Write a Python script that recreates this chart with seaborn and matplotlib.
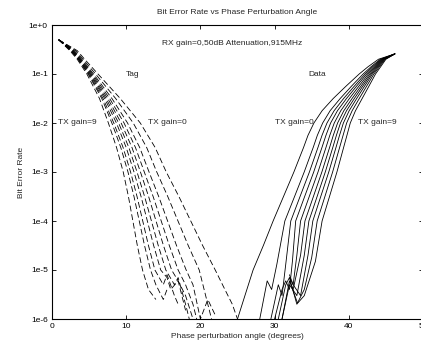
"""
Bit error rate vs phase perturbation angle, tag and data curves per TX gain
"""
import matplotlib
matplotlib.use("Agg")
import pandas as pd
import matplotlib.pyplot as plt
import seaborn as sns

# TX gain settings, 0..9
GAINS = list(range(10))

# Tag curves: angle (deg) where each curve crosses these BER levels
TAG_LEVELS = [0.5, 0.3, 0.2, 0.1, 3.16e-2, 1e-2, 3.16e-3, 1e-3, 3.16e-4, 1e-4,
              3.16e-5, 1e-5]
TAG_ANGLES = {
    9: [0.9, 2.4, 3.4, 4.7, 6.4, 7.6, 8.7, 9.6, 10.3, 10.9, 11.5, 12.2],
    8: [0.9, 2.51, 3.51, 4.87, 6.71, 8.07, 9.27, 10.24, 11.05, 11.76, 12.47, 13.28],
    7: [0.9, 2.57, 3.57, 4.96, 6.88, 8.33, 9.58, 10.59, 11.46, 12.23, 13.0, 13.87],
    6: [0.9, 2.65, 3.65, 5.08, 7.1, 8.68, 10.0, 11.05, 12.0, 12.85, 13.7, 14.65],
    5: [0.9, 2.72, 3.72, 5.18, 7.3, 8.98, 10.36, 11.46, 12.48, 13.4, 14.32, 15.34],
    4: [0.9, 2.8, 3.8, 5.3, 7.52, 9.32, 10.78, 11.92, 13.02, 14.02, 15.02, 16.12],
    3: [0.9, 2.89, 3.89, 5.44, 7.77, 9.71, 11.25, 12.44, 13.63, 14.72, 15.81, 17.0],
    2: [0.9, 3.0, 4.0, 5.6, 8.08, 10.18, 11.82, 13.08, 14.38, 15.58, 16.78, 18.08],
    1: [0.9, 3.18, 4.18, 5.87, 8.58, 10.95, 12.76, 14.12, 15.6, 16.98, 18.36, 19.84],
    0: [0.9, 3.4, 4.4, 6.2, 9.2, 11.9, 13.9, 15.4, 17.1, 18.7, 20.3, 22.0],
}
# noisy low-BER ends of the tag curves (angle, ber)
TAG_TAILS = {
    9: [(13.0, 4e-6), (14.0, 2.5e-6)],
    8: [(14.0, 5e-6), (15.0, 2.5e-6), (15.5, 4e-6)],
    7: [(15.0, 5e-6), (15.5, 8e-6), (16.5, 3e-6), (17.0, 2e-6)],
    6: [(15.5, 7e-6), (16.0, 4e-6), (17.0, 6e-6), (18.0, 1.5e-6)],
    5: [(16.5, 5e-6), (17.0, 7e-6), (18.0, 2e-6), (18.5, 1e-6)],
    4: [(17.0, 6e-6), (18.0, 3e-6), (19.0, 1e-6)],
    3: [(18.0, 5e-6), (19.0, 2e-6), (19.5, 1e-6)],
    2: [(19.0, 5e-6), (20.0, 1e-6), (21.0, 2.5e-6), (22.0, 1.2e-6)],
    1: [(20.5, 4e-6), (21.5, 1e-6)],
    0: [(23.3, 4e-6), (24.3, 2e-6), (25.0, 1e-6)],
}

# Data curves: noisy low-BER start (angle, ber), then crossings of BER levels
DATA_TAILS = {
    0: [(25.0, 1e-6), (26.0, 3e-6), (27.1, 1e-5), (28.5, 3.2e-5)],
    1: [(28.0, 1e-6), (29.0, 6e-6), (29.6, 4e-6), (30.3, 1.3e-5)],
    2: [(29.5, 1e-6), (30.5, 5e-6), (31.0, 3e-6), (31.5, 1.3e-5)],
    3: [(30.0, 1e-6), (31.0, 4e-6), (31.5, 6e-6), (32.0, 4e-6), (32.4, 1.5e-5)],
    4: [(30.5, 1e-6), (31.5, 5e-6), (32.0, 7e-6), (32.5, 5e-6), (33.0, 2e-5)],
    5: [(31.0, 1e-6), (32.0, 6e-6), (32.5, 4e-6), (33.5, 2e-5)],
    6: [(31.0, 1e-6), (32.0, 5e-6), (33.0, 3e-6), (34.0, 2e-5)],
    7: [(32.0, 8e-6), (32.5, 5e-6), (33.5, 3e-6), (34.5, 2e-5)],
    8: [(32.0, 7e-6), (33.0, 2e-6), (34.0, 4e-6), (35.0, 1.8e-5)],
    9: [(32.3, 4.5e-6), (33.1, 2.1e-6), (34.0, 3e-6), (35.5, 1.5e-5)],
}
DATA_LEVELS = [1e-4, 3.16e-4, 1e-3, 3.16e-3, 5.6e-3, 1e-2, 1.78e-2, 3.16e-2,
               5.6e-2, 0.1, 0.141, 0.2, 0.257]
DATA_ANGLES = {
    0: [29.8, 31.2, 32.6, 33.9, 34.5, 35.3, 36.4, 37.9, 39.6, 41.4, 42.6, 44.0, 46.2],
    1: [31.38, 32.69, 33.99, 35.2, 35.76, 36.48, 37.48, 38.84, 40.34, 41.93, 43.01, 44.24, 46.2],
    2: [32.18, 33.43, 34.69, 35.84, 36.39, 37.06, 38.02, 39.3, 40.72, 42.19, 43.21, 44.36, 46.2],
    3: [32.84, 34.05, 35.27, 36.38, 36.92, 37.55, 38.47, 39.69, 41.03, 42.41, 43.38, 44.46, 46.2],
    4: [33.5, 34.67, 35.85, 36.92, 37.44, 38.04, 38.92, 40.08, 41.34, 42.63, 43.55, 44.56, 46.2],
    5: [34.09, 35.23, 36.37, 37.41, 37.91, 38.49, 39.33, 40.44, 41.62, 42.83, 43.7, 44.65, 46.2],
    6: [34.62, 35.73, 36.83, 37.84, 38.33, 38.88, 39.69, 40.75, 41.86, 43.01, 43.84, 44.73, 46.2],
    7: [35.15, 36.22, 37.3, 38.27, 38.75, 39.27, 40.05, 41.06, 42.11, 43.18, 43.98, 44.81, 46.2],
    8: [35.74, 36.78, 37.82, 38.76, 39.23, 39.71, 40.45, 41.41, 42.39, 43.38, 44.13, 44.9, 46.2],
    9: [36.4, 37.4, 38.4, 39.3, 39.75, 40.2, 40.9, 41.8, 42.7, 43.6, 44.3, 45.0, 46.2],
}

Y_TICKS = [1, 1e-1, 1e-2, 1e-3, 1e-4, 1e-5, 1e-6]
Y_TICK_LABELS = ["1e+0", "1e-1", "1e-2", "1e-3", "1e-4", "1e-5", "1e-6"]
X_TICKS = [0, 10, 20, 30, 40, 50]

FS = 6.0

# Build one long table for seaborn
rows = []
for g in GAINS:
    pts = list(zip(TAG_ANGLES[g], TAG_LEVELS)) + TAG_TAILS[g]
    for a, b in pts:
        rows.append({"angle": a, "ber": b, "curve": f"Tag {g}", "kind": "Tag"})
    pts = DATA_TAILS[g] + list(zip(DATA_ANGLES[g], DATA_LEVELS))
    for a, b in pts:
        rows.append({"angle": a, "ber": b, "curve": f"Data {g}", "kind": "Data"})
df = pd.DataFrame(rows)

sns.set_theme(style="ticks")
plt.rcParams["font.family"] = ["Liberation Sans", "DejaVu Sans"]
plt.rcParams["font.size"] = FS

fig = plt.figure(figsize=(4.21, 3.48), dpi=100)
ax = fig.add_axes([52 / 421, 1 - 319 / 348, 371 / 421, 294 / 348])

palette = {c: "black" for c in df["curve"].unique()}
sns.lineplot(
    data=df,
    x="angle",
    y="ber",
    hue="curve",
    style="kind",
    palette=palette,
    dashes={"Tag": (7, 3.5), "Data": ""},
    estimator=None,
    sort=False,
    legend=False,
    linewidth=0.6,
    ax=ax,
)

ax.set_yscale("log")
ax.set_ylim(1e-6, 1)
ax.set_xlim(0, 50)
ax.set_yticks(Y_TICKS)
ax.set_yticklabels(Y_TICK_LABELS)
ax.set_xticks(X_TICKS)
ax.minorticks_off()
ax.tick_params(direction="in", length=3, width=0.6, top=True, right=True,
               labelsize=FS, pad=3, colors="black")
for s in ax.spines.values():
    s.set_linewidth(0.8)
    s.set_color("black")

ax.set_title("Bit Error Rate vs Phase Perturbation Angle", fontsize=FS, pad=8)
ax.set_xlabel("Phase perturbation angle (degrees)", fontsize=FS, labelpad=2)
ax.set_ylabel("Bit Error Rate", fontsize=FS, labelpad=3)

ax.text(24.3, 10 ** -0.37, "RX gain=0,50dB Attenuation,915MHz", ha="center", va="center", fontsize=FS)
ax.text(10.0, 0.1, "Tag", ha="left", va="center", fontsize=FS)
ax.text(34.6, 0.1, "Data", ha="left", va="center", fontsize=FS)
ax.text(0.8, 1e-2, "TX gain=9", ha="left", va="center", fontsize=FS)
ax.text(13.0, 1e-2, "TX gain=0", ha="left", va="center", fontsize=FS)
ax.text(30.0, 1e-2, "TX gain=0", ha="left", va="center", fontsize=FS)
ax.text(41.2, 1e-2, "TX gain=9", ha="left", va="center", fontsize=FS)

plt.savefig("out.png", dpi=100)
